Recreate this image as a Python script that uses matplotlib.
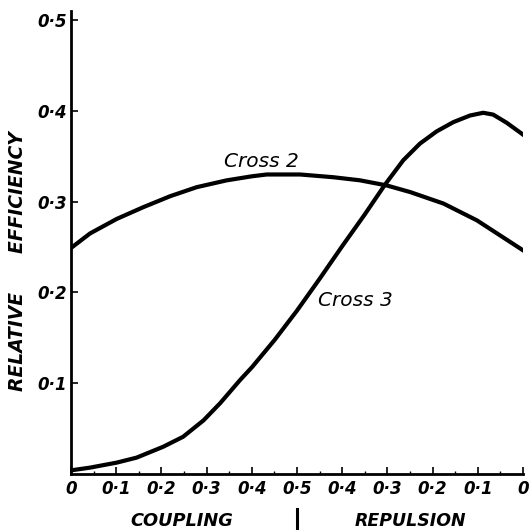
import numpy as np
import matplotlib.pyplot as plt

# recombination fraction axis: 0 -> 0.5 (coupling) then 0.5 -> 0 (repulsion)
x2 = [0.0, 0.042, 0.101, 0.16, 0.219, 0.278, 0.344, 0.40, 0.433, 0.507, 0.58,
      0.639, 0.698, 0.75, 0.824, 0.898, 0.949, 1.0]
cross2 = [0.249, 0.265, 0.281, 0.294, 0.306, 0.316, 0.3235, 0.328, 0.330, 0.330,
          0.327, 0.3236, 0.318, 0.3107, 0.298, 0.2795, 0.263, 0.2465]
x3 = [0.0, 0.042, 0.101, 0.145, 0.204, 0.248, 0.293, 0.33, 0.374, 0.401, 0.451,
      0.5, 0.55, 0.6, 0.65, 0.695, 0.735, 0.772, 0.809, 0.846, 0.883, 0.912,
      0.934, 0.964, 1.0]
cross3 = [0.004, 0.007, 0.0125, 0.018, 0.030, 0.041, 0.059, 0.078, 0.1035, 0.118,
          0.148, 0.180, 0.215, 0.251, 0.286, 0.319, 0.3456, 0.364, 0.3775, 0.3877,
          0.395, 0.398, 0.396, 0.387, 0.374]

xticks = [0, 0.1, 0.2, 0.3, 0.4, 0.5, 0.6, 0.7, 0.8, 0.9, 1.0]
xticklabels = ['0', '0·1', '0·2', '0·3', '0·4', '0·5', '0·4', '0·3', '0·2', '0·1', '0']
yticks = [0.1, 0.2, 0.3, 0.4, 0.5]
yticklabels = ['0·1', '0·2', '0·3', '0·4', '0·5']

font = dict(family='DejaVu Sans', style='italic', weight='bold')

fig = plt.figure(figsize=(5.32, 5.30), dpi=100)
ax = fig.add_axes([0.1335, 0.1057, 0.983 - 0.1335, 0.979 - 0.1057])

ax.plot(x2, cross2, color='black', lw=3, solid_joinstyle='round')
ax.plot(x3, cross3, color='black', lw=3, solid_joinstyle='round')

ax.set_xlim(0, 1.0)
ax.set_ylim(0, 0.51)
ax.spines['top'].set_visible(False)
ax.spines['right'].set_visible(False)
ax.spines['left'].set_linewidth(2)
ax.spines['bottom'].set_linewidth(2)

ax.set_xticks(xticks)
ax.set_xticklabels(xticklabels, fontsize=12, **font)
ax.set_yticks(yticks)
ax.set_yticklabels(yticklabels, fontsize=12, **font)
ax.set_xticks(np.arange(0.05, 1.0, 0.1), minor=True)
ax.tick_params(axis='both', which='major', direction='in', length=5, width=1.2, pad=4)
ax.tick_params(axis='x', which='minor', direction='in', length=2, width=1)
ax.tick_params(axis='y', pad=3)

ax.text(0.422, 0.344, 'Cross 2', fontsize=14.5, ha='center', va='center',
        family='DejaVu Sans', style='italic')
ax.text(0.63, 0.191, 'Cross 3', fontsize=14.5, ha='center', va='center',
        family='DejaVu Sans', style='italic')

tr = ax.get_xaxis_transform()
ax.text(0.245, -0.101, 'COUPLING', transform=tr, fontsize=12.8, ha='center', va='center', **font)
ax.text(0.751, -0.101, 'REPULSION', transform=tr, fontsize=12.5, ha='center', va='center', **font)
ax.plot([0.5, 0.5], [-0.076, -0.125], transform=tr, color='black', lw=2.2, clip_on=False)

ax.text(-0.119, 0.46, 'RELATIVE      EFFICIENCY', transform=ax.transAxes, rotation=90,
        fontsize=13.5, ha='center', va='center', **font)

fig.savefig('out.png', dpi=100)
